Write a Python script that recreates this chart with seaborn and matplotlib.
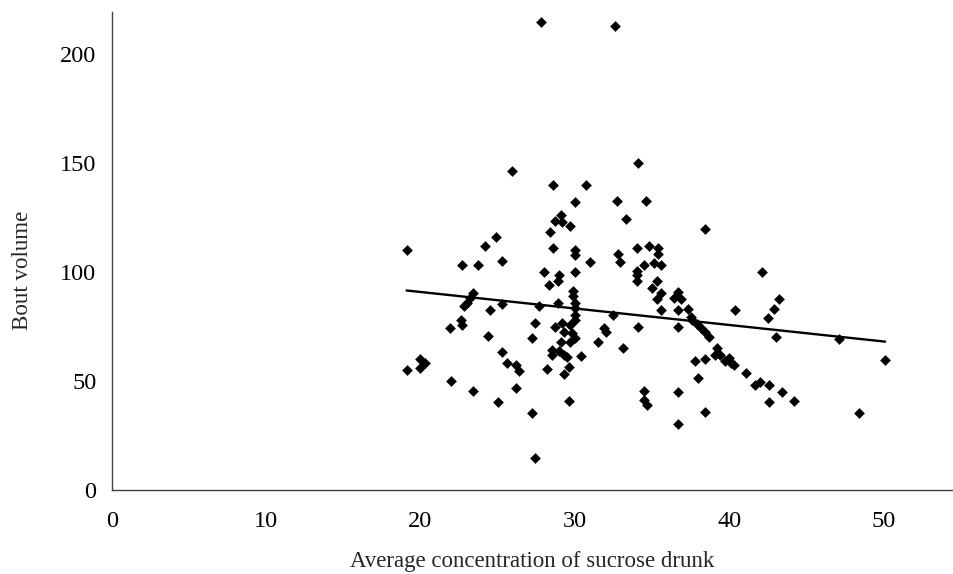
import matplotlib
matplotlib.use("Agg")
import matplotlib.pyplot as plt
import seaborn as sns
import pandas as pd

concentration = [
    19.1, 19.1, 20.0, 20.3, 20.0, 21.9, 22.6, 22.7, 22.0, 22.7,
    23.7, 23.4, 23.2, 23.0, 22.8, 23.4, 24.2, 24.9, 24.5, 24.4,
    25.3, 25.3, 25.3, 25.6, 26.2, 26.4, 26.2, 25.0, 25.9, 27.2,
    27.4, 27.2, 27.4, 27.7, 28.0, 27.8, 28.6, 28.4, 28.7, 29.1,
    29.2, 29.7, 28.6, 29.0, 28.9, 28.3, 28.9, 28.7, 29.2, 29.3,
    29.1, 28.5, 29.0, 28.5, 29.3, 29.5, 28.2, 29.6, 29.3, 29.6,
    29.7, 29.8, 30.0, 29.7, 30.4, 30.0, 30.0, 30.0, 30.0, 29.9,
    29.9, 30.0, 30.0, 30.0, 30.0, 30.7, 31.0, 31.9, 32.0, 31.5,
    32.5, 32.6, 32.7, 32.8, 32.9, 33.1, 33.3, 34.1, 34.6, 34.0,
    34.8, 35.4, 35.4, 34.5, 35.1, 35.6, 34.0, 34.0, 34.0, 35.3,
    35.0, 35.6, 35.3, 36.7, 36.4, 36.9, 35.6, 36.7, 37.3, 37.5,
    37.6, 37.9, 38.2, 38.4, 38.7, 34.1, 36.7, 34.5, 34.5, 34.7,
    36.7, 36.7, 38.4, 38.0, 37.8, 38.4, 39.2, 39.1, 39.4, 39.7,
    40.0, 40.1, 40.3, 41.1, 38.4, 40.4, 42.1, 43.2, 42.9, 42.5,
    43.0, 47.1, 50.1, 41.7, 42.0, 42.6, 43.4, 42.6, 44.2, 48.4,
]
bout_volume = [
    110.1, 55.0, 59.9, 58.4, 55.8, 74.2, 78.0, 75.7, 50.1, 102.9,
    102.9, 90.2, 87.9, 85.9, 84.1, 45.4, 111.6, 115.9, 82.6, 70.6,
    105.0, 85.3, 63.2, 58.1, 57.3, 54.7, 46.9, 40.2, 146.3, 35.2,
    14.8, 69.6, 76.5, 84.1, 99.7, 214.4, 139.9, 118.0, 123.1, 126.1,
    122.6, 121.1, 110.8, 98.6, 95.6, 94.0, 85.6, 74.9, 76.5, 72.6,
    68.0, 64.2, 63.5, 61.9, 61.9, 60.9, 55.4, 56.3, 53.1, 41.0,
    75.7, 71.9, 69.6, 68.0, 61.5, 132.0, 110.0, 107.8, 99.7, 91.0,
    88.7, 85.6, 83.3, 80.3, 78.0, 139.9, 104.7, 74.2, 72.6, 68.0,
    80.0, 212.5, 132.6, 108.3, 104.7, 65.0, 124.3, 149.9, 132.6, 110.9,
    111.9, 110.9, 108.3, 103.2, 104.0, 102.9, 100.5, 98.6, 95.9, 95.6,
    92.5, 90.2, 87.5, 90.7, 87.9, 87.5, 82.6, 82.6, 82.9, 79.2,
    78.0, 76.1, 74.2, 72.2, 70.0, 74.6, 74.6, 45.4, 41.3, 39.0,
    45.1, 30.3, 35.9, 51.2, 58.9, 60.0, 65.0, 61.9, 61.9, 58.9,
    60.4, 58.1, 57.3, 53.5, 119.6, 82.6, 100.1, 87.6, 82.9, 79.0,
    69.9, 69.1, 59.6, 48.2, 49.7, 48.2, 45.1, 40.2, 40.8, 35.2,
]
x_ticks = [0, 10, 20, 30, 40, 50]
y_ticks = [0, 50, 100, 150, 200]

df = pd.DataFrame({"conc": concentration, "vol": bout_volume})

sns.set_style("white")
plt.rcParams["font.family"] = ["Liberation Serif", "DejaVu Serif"]

fig = plt.figure(figsize=(9.54, 5.74), dpi=100)
ax = fig.add_axes([0.1171, 0.1463, 0.8819, 0.8327])

sns.regplot(data=df, x="conc", y="vol", ax=ax, ci=None, marker="D",
            scatter_kws={"s": 30, "color": "black", "linewidths": 0, "alpha": 1},
            line_kws={"color": "black", "linewidth": 1.7})

ax.set_xlim(0, 54.5)
ax.set_ylim(0, 219)
ax.set_xticks(x_ticks)
ax.set_yticks(y_ticks)
for s in ["top", "right"]:
    ax.spines[s].set_visible(False)
for s in ["left", "bottom"]:
    ax.spines[s].set_color("#444444")
    ax.spines[s].set_linewidth(1.0)
ax.tick_params(axis="both", direction="out", length=5, width=1.0,
               colors="#444444", labelcolor="black", labelsize=17.5)
ax.tick_params(axis="x", pad=10)
ax.tick_params(axis="y", pad=6)
ax.set_xlabel("Average concentration of sucrose drunk", fontsize=16.5, labelpad=14)
ax.set_ylabel("Bout volume", fontsize=16.5)
ax.yaxis.set_label_coords(-0.094, 0.46)

fig.savefig("out.png", dpi=100)
